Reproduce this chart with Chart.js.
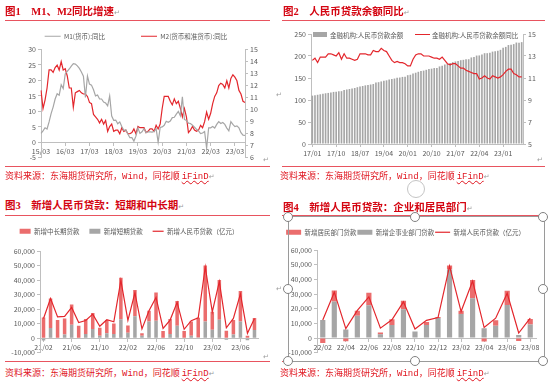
<!DOCTYPE html>
<html>
<head>
<meta charset="utf-8">
<script src="https://cdn.jsdelivr.net/npm/chart.js@4.4.0/dist/chart.umd.min.js"></script>
<style>
html, body { margin: 0; padding: 0; background: #fff; }
#page { position: relative; width: 550px; height: 382px; overflow: hidden; font-family: "Noto Sans CJK SC", sans-serif; }
canvas { position: absolute; }
.title { position: absolute; font-size: 10.5px; line-height: 14px; font-weight: 700; color: #d40511; white-space: nowrap;
  font-family: "Liberation Serif", "Noto Sans CJK SC", serif; z-index: 2; }
.rule { position: absolute; height: 1px; background: #e8545f; z-index: 2; }
.src { position: absolute; font-size: 9px; line-height: 12px; color: #e0141e; white-space: nowrap; z-index: 2; }
.mono { font-family: "Liberation Mono", monospace; }
.wavy { text-decoration: underline wavy #e0141e; text-decoration-thickness: 1px; }
.pm { color: #9a9a9a; font-size: 7px; font-weight: 400; font-family: "DejaVu Sans", sans-serif; }
.loose { position: absolute; color: #9a9a9a; font-size: 7px; font-family: "DejaVu Sans", sans-serif; }
.lg { position: absolute; font-size: 6.5px; line-height: 8px; color: #595959; white-space: nowrap; }
.frame { position: absolute; left: 288px; top: 216px; width: 255px; height: 144px; border: 1px solid #9a9a9a; z-index: 3; }
.handle { position: absolute; width: 8px; height: 8px; border: 1.3px solid #808080; border-radius: 50%; background: #fff; z-index: 4; }
.anchor { position: absolute; left: 407px; top: 180px; width: 16px; height: 16px; border: 1.3px solid #c4c4c4; border-radius: 50%; z-index: 1; }
</style>
</head>
<body>
<div id="page">
  <canvas id="c1" width="272" height="167" style="left:0px; top:-3px;"></canvas>
  <canvas id="c2" width="275" height="136" style="left:275px; top:24px;"></canvas>
  <canvas id="c3" width="272" height="141" style="left:0px; top:218px;"></canvas>
  <canvas id="c4" width="275" height="131" style="left:275px; top:228px;"></canvas>

  <div class="title" style="left:5px; top:5px;">图1　M1、M2同比增速<span class="pm">↵</span></div>
  <div class="title" style="left:283px; top:5px;">图2　人民币贷款余额同比<span class="pm">↵</span></div>
  <div class="title" style="left:5px; top:199px;">图3　新增人民币贷款：短期和中长期<span class="pm">↵</span></div>
  <div class="title" style="left:283px; top:201px;">图4　新增人民币贷款：企业和居民部门<span class="pm">↵</span></div>

  <div class="rule" style="left:5px; top:20px; width:265px;"></div>
  <div class="rule" style="left:282px; top:20px; width:263px;"></div>
  <div class="rule" style="left:5px; top:166px; width:265px;"></div>
  <div class="rule" style="left:282px; top:166px; width:263px;"></div>
  <div class="rule" style="left:5px; top:215px; width:265px;"></div>
  <div class="rule" style="left:282px; top:215px; width:263px;"></div>
  <div class="rule" style="left:5px; top:361px; width:265px;"></div>
  <div class="rule" style="left:282px; top:361px; width:263px;"></div>

  <div class="src" style="left:5px; top:170px;">资料来源：东海期货研究所，<span class="mono">Wind</span>，同花顺 <span class="mono wavy">iFinD</span><span class="pm">↵</span></div>
  <div class="src" style="left:280px; top:170px;">资料来源：东海期货研究所，<span class="mono">Wind</span>，同花顺 <span class="mono wavy">iFinD</span><span class="pm">↵</span></div>
  <div class="src" style="left:5px; top:367px;">资料来源：东海期货研究所，<span class="mono">Wind</span>，同花顺 <span class="mono wavy">iFinD</span><span class="pm">↵</span></div>
  <div class="src" style="left:280px; top:367px;">资料来源：东海期货研究所，<span class="mono">Wind</span>，同花顺 <span class="mono wavy">iFinD</span><span class="pm">↵</span></div>

  <!-- legend of figure 2 sits inside the plot area -->
  <div style="position:absolute; left:313px; top:32px; width:14px; height:5px; background:#a6a6a6;"></div>
  <div class="lg" style="left:330px; top:30.5px;">金融机构:人民币贷款余额</div>
  <div style="position:absolute; left:415px; top:34px; width:15px; height:1.3px; background:#e3262c;"></div>
  <div class="lg" style="left:432px; top:30.5px;">金融机构:人民币贷款余额同比</div>

  <span class="loose" style="left:263px; top:156px;">↵</span>
  <span class="loose" style="left:537px; top:156px;">↵</span>
  <span class="loose" style="left:276px; top:91px;">↵</span>
  <span class="loose" style="left:263px; top:353px;">↵</span>
  <span class="loose" style="left:276px; top:285px;">↵</span>

  <div class="anchor"></div>
  <div class="frame"></div>
  <div class="handle" style="left:283px; top:212px;"></div>
  <div class="handle" style="left:410px; top:212px;"></div>
  <div class="handle" style="left:538px; top:212px;"></div>
  <div class="handle" style="left:283px; top:284px;"></div>
  <div class="handle" style="left:538px; top:284px;"></div>
  <div class="handle" style="left:283px; top:356px;"></div>
  <div class="handle" style="left:410px; top:356px;"></div>
  <div class="handle" style="left:538px; top:356px;"></div>
</div>

<script>
function monthLabels(y, m, n) {
  var out = [];
  for (var i = 0; i < n; i++) {
    out.push(String(y % 100).padStart(2, '0') + '/' + String(m).padStart(2, '0'));
    m++;
    if (m > 12) { m = 1; y++; }
  }
  return out;
}

// Figure 1: 2015/03 - 2023/08, %
const months1 = monthLabels(2015, 3, 102);
const m1 = [
  2.9, 3.7, 4.7, 4.3, 6.6, 9.3, 11.4, 14.0, 15.7, 15.2,
  18.6, 17.4, 22.1, 22.9, 23.7, 24.6, 25.4, 25.3, 24.7, 23.9, 22.7, 21.4,
  14.5, 21.4, 18.8, 18.5, 17.0, 15.0, 15.3, 14.0, 14.0, 13.0, 12.7, 11.8,
  15.0, 8.5, 7.1, 7.2, 6.0, 6.6, 5.1, 3.9, 4.0, 2.7, 1.5, 1.5,
  0.4, 2.0, 4.6, 2.9, 3.4, 4.4, 3.1, 3.4, 3.4, 3.3, 3.5, 4.4,
  0.0, 4.8, 5.0, 5.5, 6.8, 6.5, 6.9, 8.0, 8.1, 9.1, 10.0, 8.6,
  14.7, 7.4, 7.1, 6.2, 6.1, 5.5, 4.9, 4.2, 3.7, 2.8, 3.0, 3.5,
  -1.9, 4.7, 4.7, 5.1, 4.6, 5.8, 6.7, 6.1, 6.4, 5.8, 4.6, 3.7,
  6.7, 5.8, 5.1, 5.3, 4.7, 3.1, 2.3, 2.2
];
const m2 = [
  11.6, 10.1, 10.8, 11.8, 13.3, 13.3, 13.1, 13.5, 13.7, 13.3,
  14.0, 13.3, 13.4, 12.8, 11.8, 11.8, 10.2, 11.4, 11.5, 11.6, 11.4, 11.3,
  11.3, 11.1, 10.6, 10.5, 9.6, 9.4, 9.2, 8.9, 9.2, 8.8, 9.1, 8.2,
  8.6, 8.8, 8.2, 8.3, 8.3, 8.0, 8.5, 8.2, 8.3, 8.0, 8.0, 8.1,
  8.4, 8.0, 8.6, 8.5, 8.5, 8.5, 8.1, 8.2, 8.4, 8.4, 8.2, 8.7,
  8.4, 8.8, 10.1, 11.1, 11.1, 11.1, 10.7, 10.4, 10.9, 10.5, 10.7, 10.1,
  9.4, 10.1, 9.4, 8.1, 8.3, 8.6, 8.3, 8.2, 8.3, 8.7, 8.5, 9.0,
  9.8, 9.2, 9.7, 10.5, 11.1, 11.4, 12.0, 12.2, 12.1, 11.8, 12.4, 11.8,
  12.6, 12.9, 12.7, 12.4, 11.6, 11.3, 10.7, 10.6
];

// Figure 2: 2017/01 - 2023/08, balance in 万亿元 and yoy %
const months2 = monthLabels(2017, 1, 80);
const loanBal = [
  109.9, 110.8, 111.9, 113.0, 114.1, 115.3, 116.1, 117.2, 118.4, 119.0, 119.7, 120.1,
  123.0, 123.9, 125.0, 126.2, 127.3, 129.1, 130.5, 131.8, 133.3, 134.0, 135.2, 136.3,
  139.6, 140.5, 142.2, 143.5, 144.7, 146.4, 147.5, 148.8, 150.5, 151.1, 152.5, 153.1,
  156.4, 157.3, 160.2, 162.0, 164.1, 165.9, 166.8, 168.6, 170.5, 171.2, 172.6, 172.7,
  176.3, 177.6, 180.4, 181.9, 183.9, 186.1, 187.6, 188.9, 190.5, 191.3, 192.6, 192.7,
  196.7, 197.9, 201.0, 201.3, 203.2, 206.4, 206.4, 207.6, 210.0, 210.6, 211.8, 214.0,
  218.9, 220.7, 224.9, 225.6, 227.0, 230.6, 230.2, 231.5
];
const loanYoY = [
  12.6, 12.8, 12.4, 12.9, 12.9, 12.9, 13.2, 13.2, 13.1, 13.0, 13.3, 12.7,
  13.2, 12.8, 12.8, 12.7, 12.6, 12.7, 13.2, 13.2, 13.2, 13.1, 13.1, 13.5,
  13.4, 13.4, 13.7, 13.5, 13.4, 13.0, 12.6, 12.4, 12.5, 12.4, 12.4, 12.3,
  12.1, 12.1, 12.7, 13.1, 13.2, 13.2, 13.0, 13.0, 13.0, 12.9, 12.8, 12.8,
  12.7, 12.9, 12.6, 12.3, 12.2, 12.3, 12.3, 12.1, 11.9, 11.9, 11.7, 11.6,
  11.5, 11.4, 11.4, 10.9, 11.0, 11.2, 11.0, 10.9, 11.2, 11.1, 11.0, 11.1,
  11.3, 11.6, 11.8, 11.8, 11.4, 11.3, 11.1, 11.1
];

// Figure 3: 2021/02 - 2023/08, 亿元
const months3 = monthLabels(2021, 2, 31);
const shortLoans = [
  -1600, 7000, 400, 2500, 9300, 300, 3000, 6400, 1800, 3400, 3000,
  13000, 3800, 15200, 1800, 11600, 12000, 300, 3000, 8600, 400, 1800, 500,
  11600, 5900, 12700, -1100, 2500, 11600, -1400, 5700
];
const longLoans = [
  14300, 20300, 12100, 11100, 13900, 8300, 10200, 10900, 5500, 9100, 7200,
  28600, 5000, 18000, 1600, 7300, 19400, 4700, 10200, 17100, 4600, 9800, 13600,
  38400, 12300, 27300, 5200, 10000, 20900, 1800, 8200
];
const newLoans3 = [
  13600, 27300, 14700, 15000, 21200, 10800, 12200, 16600, 8262, 12700, 11300,
  39800, 12336, 31300, 6454, 18900, 28100, 6790, 12500, 24700, 6152, 12100, 14000,
  49000, 18100, 38900, 7188, 13600, 30500, 3459, 13600
];

// Figure 4: 2022/02 - 2023/08, 亿元
const months4 = monthLabels(2022, 2, 19);
const householdLoans = [
  -3400, 7400, -2100, 3400, 8500, 1100, 4000, 5800, -300, 2000, 600,
  2600, 2100, 12500, -2300, 3700, 9600, -2000, 3900
];
const corporateLoans = [
  12300, 25000, 5800, 15200, 22400, 2700, 8900, 19700, 4500, 9000, 13700,
  46800, 16500, 27100, 6700, 8500, 22600, 2200, 9200
];
const newLoans4 = [
  12336, 31300, 6454, 18900, 28100, 6790, 12500, 24700, 6152, 12100, 14000,
  49000, 18100, 38900, 7188, 13600, 30500, 3459, 13600
];

Chart.defaults.font.family = '"Noto Sans CJK SC", "Noto Sans", sans-serif';
Chart.defaults.font.size = 7;
Chart.defaults.color = '#595959';
Chart.defaults.animation = false;
Chart.defaults.events = [];
Chart.defaults.plugins.tooltip.enabled = false;

const AXIS = '#bfbfbf';
const RED = '#e3262c';
const PINK = '#eb6d6d';
const GREY = '#a6a6a6';

// adds some room between legend and plot
const legendGap = {
  id: 'legendGap',
  beforeInit(chart, args, opts) {
    const fit = chart.legend.fit;
    chart.legend.fit = function () {
      fit.bind(chart.legend)();
      this.height += opts.extra || 0;
    };
  }
};

function yAxis(pos, min, max, step, width) {
  return {
    position: pos, min: min, max: max,
    ticks: { stepSize: step, padding: 2 },
    grid: { drawOnChartArea: false, tickLength: 3, color: AXIS },
    border: { color: AXIS },
    afterFit: function (s) { s.width = width; }
  };
}

function xAxis(every, extra) {
  return Object.assign({
    ticks: {
      autoSkip: false, maxRotation: 0, minRotation: 0, padding: 2,
      callback: function (v, i) { return i % every === 0 ? this.getLabelForValue(v) : ''; }
    },
    grid: {
      drawOnChartArea: false, offset: false, tickLength: 3,
      color: function (c) { return c.index % every === 0 ? AXIS : 'rgba(0,0,0,0)'; }
    },
    border: { color: AXIS }
  }, extra);
}

new Chart(document.getElementById('c1'), {
  type: 'line',
  data: {
    labels: months1,
    datasets: [
      { label: 'M1(货币):同比', data: m1, yAxisID: 'y', borderColor: GREY, borderWidth: 1.2, pointRadius: 0, pointStyle: 'line' },
      { label: 'M2(货币和准货币):同比', data: m2, yAxisID: 'y1', borderColor: RED, borderWidth: 1.2, pointRadius: 0, pointStyle: 'line' }
    ]
  },
  options: {
    responsive: false,
    layout: { padding: { bottom: 5 } },
    plugins: {
      legend: { labels: { usePointStyle: true, pointStyleWidth: 16, boxHeight: 7, padding: 36, font: { size: 6.5 } } },
      legendGap: { extra: 0 }
    },
    scales: {
      x: xAxis(12, { position: { y: 0 } }),
      y: yAxis('left', -5, 30, 5, 41),
      y1: yAxis('right', 6, 15, 1, 27)
    }
  },
  plugins: [legendGap]
});

new Chart(document.getElementById('c2'), {
  type: 'bar',
  data: {
    labels: months2,
    datasets: [
      { type: 'line', label: '金融机构:人民币贷款余额同比', data: loanYoY, yAxisID: 'y1', borderColor: RED, borderWidth: 1.2, pointRadius: 0 },
      { label: '金融机构:人民币贷款余额', data: loanBal, yAxisID: 'y', backgroundColor: GREY, barPercentage: 0.62, categoryPercentage: 1 }
    ]
  },
  options: {
    responsive: false,
    layout: { padding: { top: 10 } },
    plugins: { legend: { display: false }, legendGap: { extra: 0 } },
    scales: {
      x: xAxis(9, { afterFit: function (s) { s.height = 16; } }),
      y: yAxis('left', 0, 250, 50, 36),
      y1: yAxis('right', 5, 15, 1, 27)
    }
  },
  plugins: [legendGap]
});

function loanChart(id, labels, every, names, lower, upper, total, lg, axisWidth, barPct) {
  const y = yAxis('left', -10000, 60000, 10000, axisWidth);
  y.stacked = true;
  return new Chart(document.getElementById(id), {
    type: 'bar',
    data: {
      labels: labels,
      datasets: [
        { type: 'line', label: names[2], data: total, borderColor: RED, borderWidth: 1.2, pointRadius: 0, pointStyle: 'line' },
        { label: names[1], data: lower, backgroundColor: GREY, pointStyle: 'rect', barPercentage: barPct, categoryPercentage: 1 },
        { label: names[0], data: upper, backgroundColor: PINK, pointStyle: 'rect', barPercentage: barPct, categoryPercentage: 1 }
      ]
    },
    options: {
      responsive: false,
      layout: { padding: { right: 14, bottom: 5 } },
      plugins: {
        legend: {
          labels: {
            usePointStyle: true, pointStyleWidth: lg.w, boxHeight: 5, padding: lg.pad, font: { size: 6.5 },
            sort: function (a, b) { return b.datasetIndex - a.datasetIndex; }
          }
        },
        legendGap: { extra: lg.extra }
      },
      scales: {
        x: xAxis(every, { stacked: true, position: { y: 0 } }),
        y: y
      }
    },
    plugins: [legendGap]
  });
}

loanChart('c3', months3, 4, ['新增中长期贷款', '新增短期贷款', '新增人民币贷款（亿元）'],
  shortLoans, longLoans, newLoans3, { w: 11, pad: 10, extra: 6.5 }, 40, 0.5);
loanChart('c4', months4, 2, ['新增居民部门贷款', '新增企事业部门贷款', '新增人民币贷款（亿元）'],
  corporateLoans, householdLoans, newLoans4, { w: 15, pad: 1, extra: 4.5 }, 42, 0.45);
</script>
</body>
</html>
